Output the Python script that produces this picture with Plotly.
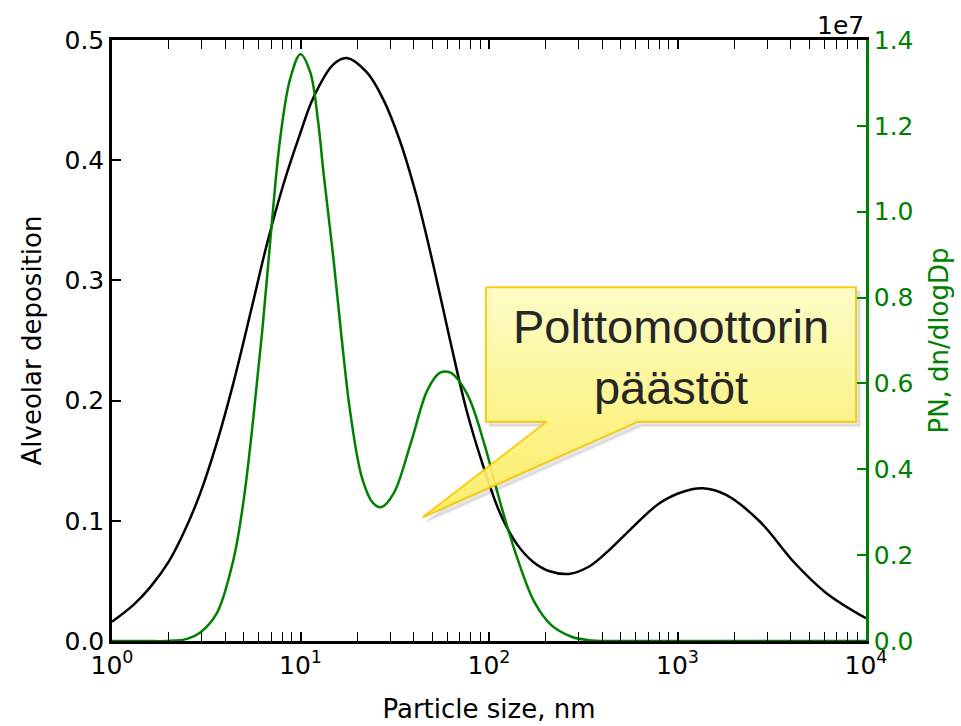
import plotly.graph_objects as go

# ---------------- data ----------------
dep_size = [1.0, 1.3, 1.6, 2.0, 2.4, 2.94, 3.6, 4.41, 5.41, 6.63, 8.12, 10.0, 11.7, 14.9,
            17.6, 22.5, 27.4, 33.7, 41.3, 50.6, 62.2, 76.0, 93.0, 114, 140, 171,
            210, 265, 340, 430, 536, 802, 1070, 1370, 1810, 2750, 4150, 6140, 10000]
dep_value = [0.016, 0.030, 0.045, 0.066, 0.090, 0.123, 0.165, 0.215, 0.272, 0.330, 0.380, 0.423, 0.452, 0.4795,
             0.485, 0.473, 0.451, 0.416, 0.370, 0.313, 0.250, 0.192, 0.146, 0.107, 0.081, 0.066,
             0.058, 0.0558, 0.062, 0.075, 0.0896, 0.1146, 0.1242, 0.127, 0.1215, 0.099, 0.0655, 0.040, 0.0189]

pn_size = [1.0, 1.5, 1.96, 2.5, 2.94, 3.6, 4.41, 5.0, 5.62, 6.32, 7.05, 7.8, 8.82, 10.0,
           11.26, 12.4, 13.25, 14.96, 16.58, 18.4, 21.2, 24.2, 26.9, 31.3, 38.4, 47.2,
           55.0, 62.5, 76.6, 94.3, 115.8, 142, 174, 214, 274, 337, 450, 1000, 3000, 10000]
pn_value = [0, 0, 0, 0.005e7, 0.02e7, 0.065e7, 0.19e7, 0.33e7, 0.52e7, 0.74e7, 0.975e7, 1.17e7, 1.31e7, 1.367e7,
            1.325e7, 1.21e7, 1.09e7, 0.89e7, 0.70e7, 0.53e7, 0.38e7, 0.322e7, 0.312e7, 0.345e7, 0.46e7, 0.585e7,
            0.625e7, 0.625e7, 0.575e7, 0.46e7, 0.316e7, 0.19e7, 0.091e7, 0.037e7, 0.01e7, 0.002e7, 0, 0, 0, 0]

x_tickvals = [1, 10, 100, 1000, 10000]
x_ticktext = ["10<sup>0</sup>", "10<sup>1</sup>", "10<sup>2</sup>", "10<sup>3</sup>", "10<sup>4</sup>"]
y_tickvals = [0.0, 0.1, 0.2, 0.3, 0.4, 0.5]
y2_tickvals = [0, 0.2e7, 0.4e7, 0.6e7, 0.8e7, 1.0e7, 1.2e7, 1.4e7]
y2_ticktext = ["0.0", "0.2", "0.4", "0.6", "0.8", "1.0", "1.2", "1.4"]

callout_text = "Polttomoottorin<br>päästöt"

# ---------------- styling ----------------
FONT = "DejaVu Sans"
GREEN = "#008000"
minor_vals = [k * 10 ** n for n in range(0, 4) for k in range(2, 10)]

fig = go.Figure()

fig.add_trace(go.Scatter(x=dep_size, y=dep_value, mode="lines",
                         line=dict(color="black", width=2.5, shape="spline", smoothing=1.0),
                         xaxis="x", yaxis="y", showlegend=False, hoverinfo="skip"))
fig.add_trace(go.Scatter(x=pn_size, y=pn_value, mode="lines",
                         line=dict(color=GREEN, width=2.5, shape="spline", smoothing=1.0),
                         xaxis="x", yaxis="y2", showlegend=False, hoverinfo="skip"))

# callout (paper-like overlay axes 0..1)
bx0, bx1, by0, by1 = 0.4959, 0.9868, 0.3649, 0.5885
tl, tr, tip = (0.5763, 0.3649), (0.6977, 0.3649), (0.4120, 0.2058)
cx = [bx0, bx1, bx1, tr[0], tip[0], tl[0], bx0, bx0]
cy = [by1, by1, by0, tr[1], tip[1], tl[1], by0, by1]
sdx, sdy = 0.005, -0.007
fig.add_trace(go.Scatter(x=[v + sdx for v in cx], y=[v + sdy for v in cy], mode="lines",
                         fill="toself", fillcolor="rgba(0,0,0,0.10)",
                         line=dict(color="rgba(0,0,0,0.06)", width=3),
                         xaxis="x3", yaxis="y3", showlegend=False, hoverinfo="skip"))
fig.add_trace(go.Scatter(x=cx, y=cy, mode="lines", fill="toself",
                         fillgradient=dict(type="vertical",
                                           colorscale=[[0, "#FFEE60"], [0.45, "#FFF585"], [1, "#FFFFC6"]]),
                         line=dict(color="#F9C800", width=2),
                         opacity=0.92,
                         xaxis="x3", yaxis="y3", showlegend=False, hoverinfo="skip"))

fig.update_layout(
    width=961, height=726,
    margin=dict(l=112, r=95, t=40, b=85),
    paper_bgcolor="white", plot_bgcolor="white",
    font=dict(family=FONT, size=25, color="black"),
    xaxis=dict(type="log", range=[0, 4], tickvals=x_tickvals, ticktext=x_ticktext,
               ticks="inside", ticklen=9, tickwidth=1.5, tickcolor="black",
               minor=dict(tickvals=minor_vals, ticks="inside", ticklen=5, tickwidth=1.2, tickcolor="black"),
               showline=True, linecolor="black", linewidth=2.5, mirror="allticks",
               showgrid=False, zeroline=False, automargin=False,
               tickfont=dict(size=25),
               title=dict(text="Particle size, nm", font=dict(size=26), standoff=22)),
    yaxis=dict(range=[0, 0.5], tickvals=y_tickvals, tickformat=".1f",
               ticks="inside", ticklen=9, tickwidth=1.5, tickcolor="black",
               showline=True, linecolor="black", linewidth=2.5,
               showgrid=False, zeroline=False, automargin=False,
               tickfont=dict(size=25),
               title=dict(text="Alveolar deposition", font=dict(size=26), standoff=16)),
    yaxis2=dict(overlaying="y", side="right", range=[0, 1.4e7],
                tickvals=y2_tickvals, ticktext=y2_ticktext,
                ticks="inside", ticklen=9, tickwidth=1.5, tickcolor=GREEN,
                showline=True, linecolor=GREEN, linewidth=2.5,
                showgrid=False, zeroline=False, automargin=False,
                tickfont=dict(size=25, color=GREEN),
                title=dict(text="PN, dn/dlogDp", font=dict(size=26, color=GREEN), standoff=18)),
    xaxis3=dict(overlaying="x", range=[0, 1], visible=False, fixedrange=True),
    yaxis3=dict(overlaying="y", range=[0, 1], visible=False, fixedrange=True),
    annotations=[
        dict(text="1e7", xref="paper", yref="paper", x=1.0, y=1.0, xanchor="right", yanchor="bottom",
             showarrow=False, font=dict(family=FONT, size=25, color="black"), yshift=-2),
        dict(text=callout_text, xref="paper", yref="paper", x=0.7414, y=0.4725,
             xanchor="center", yanchor="middle", showarrow=False, align="center",
             font=dict(family="Liberation Sans", size=47, color="#262626")),
    ],
)

fig.write_html("out.html")
